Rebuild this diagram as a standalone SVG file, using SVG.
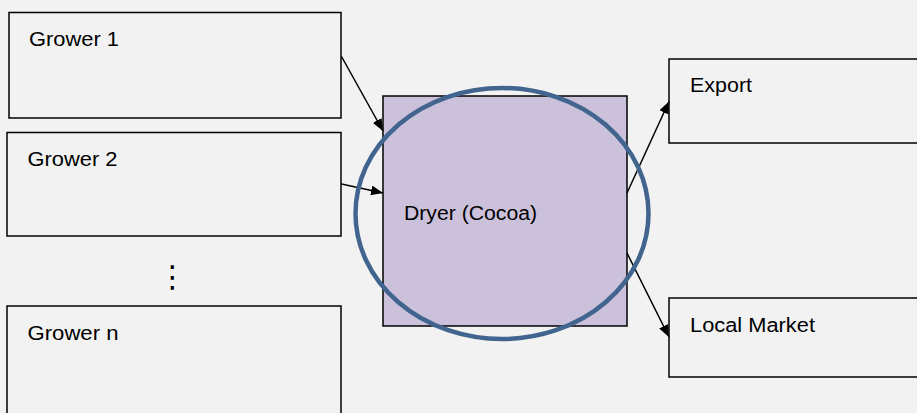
<svg xmlns="http://www.w3.org/2000/svg" width="917" height="413" viewBox="0 0 917 413">
  <defs>
    <style>
      .box { fill: #f2f2f2; stroke: #000; stroke-width: 1.5; }
      .dryer { fill: #ccc1da; stroke: #000; stroke-width: 1.5; }
      .lbl { font-family: "Liberation Sans", Arial, sans-serif; font-size: 20px; fill: #000; }
      .conn { stroke: #000; stroke-width: 1.5; fill: none; marker-end: url(#arrow); }
      .ring { fill: none; stroke: #41658f; stroke-width: 4.5; }
    </style>
    <marker id="arrow" viewBox="0 0 12 10" refX="12" refY="5" markerWidth="12" markerHeight="10" markerUnits="userSpaceOnUse" orient="auto">
      <path d="M0,0 L12,5 L0,10 z" fill="#000"/>
    </marker>
  </defs>
  <rect width="917" height="413" fill="#f2f2f2"/>

  <g id="grower1">
    <rect class="box" x="9" y="12.5" width="332" height="105.5"/>
    <text class="lbl" x="29" y="45.5" textLength="90" lengthAdjust="spacingAndGlyphs">Grower 1</text>
  </g>
  <g id="grower2">
    <rect class="box" x="7" y="132.5" width="334" height="103.5"/>
    <text class="lbl" x="27.5" y="165.5" textLength="90" lengthAdjust="spacingAndGlyphs">Grower 2</text>
  </g>
  <g id="ellipsis">
    <text x="172.5" y="287" font-family="DejaVu Sans, sans-serif" font-size="30" text-anchor="middle" fill="#000">⋮</text>
  </g>
  <g id="growern">
    <rect class="box" x="7" y="306" width="334" height="120"/>
    <text class="lbl" x="27.5" y="340" textLength="91" lengthAdjust="spacingAndGlyphs">Grower n</text>
  </g>

  <g id="dryer">
    <rect class="dryer" x="383" y="96" width="244" height="230"/>
    <text class="lbl" x="404" y="220" textLength="133" lengthAdjust="spacingAndGlyphs">Dryer (Cocoa)</text>
  </g>

  <g id="export">
    <rect class="box" x="669" y="59" width="260" height="84"/>
    <text class="lbl" x="690" y="92" textLength="62" lengthAdjust="spacingAndGlyphs">Export</text>
  </g>
  <g id="localmarket">
    <rect class="box" x="669" y="298" width="260" height="79"/>
    <text class="lbl" x="690" y="332" textLength="125" lengthAdjust="spacingAndGlyphs">Local Market</text>
  </g>

  <g id="connectors">
    <line class="conn" x1="341.5" y1="56.5" x2="383" y2="131"/>
    <line class="conn" x1="341.5" y1="184" x2="383" y2="193"/>
    <line class="conn" x1="627" y1="193" x2="669" y2="101.5"/>
    <line class="conn" x1="627" y1="253" x2="669" y2="337"/>
  </g>

  <g id="ring">
    <ellipse class="ring" cx="502" cy="213.5" rx="146.5" ry="125.5"/>
  </g>
</svg>
